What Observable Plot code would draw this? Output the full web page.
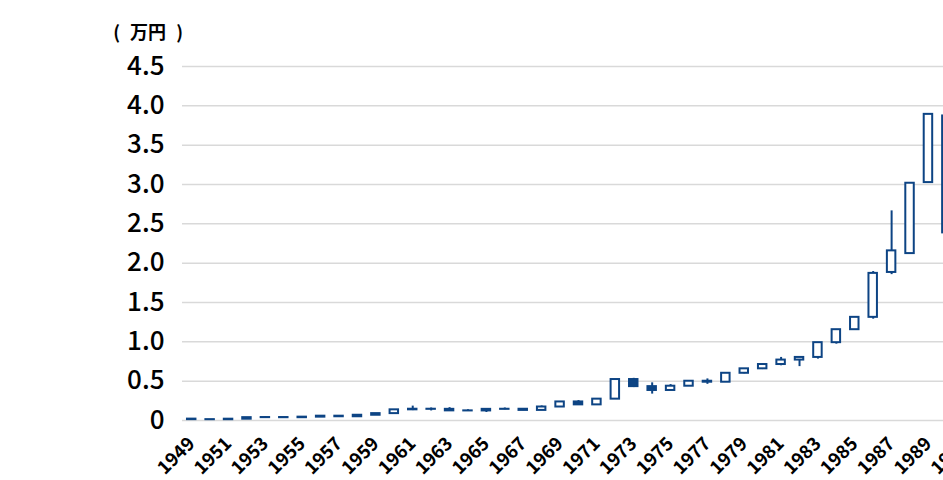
<!DOCTYPE html>
<html>
<head>
<meta charset="utf-8">
<script src="https://cdn.jsdelivr.net/npm/d3@7"></script>
<script src="https://cdn.jsdelivr.net/npm/@observablehq/plot@0.6"></script>
<style>
  html, body { margin: 0; padding: 0; background: #fff; overflow: hidden; width: 943px; height: 480px; }
  #wrap { position: relative; width: 943px; height: 480px; overflow: hidden; }
  #unit { position: absolute; left: 0; top: 19px; width: 183px; text-align: right; white-space: pre; word-spacing: 6px;
          font: bold 18px/24px "Noto Sans CJK JP", sans-serif; color: #000; }
</style>
</head>
<body>
<div id="wrap"><div id="unit">( 万円 )</div></div>
<script>
// Yearly candles, values in 万円 (10,000 yen)
const years  = [1949,1950,1951,1952,1953,1954,1955,1956,1957,1958,1959,1960,1961,1962,1963,1964,1965,1966,1967,1968,1969,1970,1971,1972,1973,1974,1975,1976,1977,1978,1979,1980,1981,1982,1983,1984,1985,1986,1987,1988,1989,1990];
const opens  = [0.0176,0.0110,0.0102,0.0166,0.0363,0.0378,0.0356,0.0426,0.0549,0.0475,0.0667,0.0875,0.1357,0.1433,0.1420,0.1225,0.1217,0.1418,0.1430,0.1283,0.1715,0.2359,0.1987,0.2714,0.5208,0.4307,0.3817,0.4359,0.4991,0.4866,0.6002,0.6569,0.7116,0.7682,0.8017,0.9894,1.1543,1.3113,1.8820,2.1217,3.0243,3.8713];
const highs  = [0.0176,0.0115,0.0166,0.0363,0.0474,0.0384,0.0426,0.0549,0.0595,0.0667,0.0875,0.1357,0.1830,0.1590,0.1634,0.1369,0.1418,0.1589,0.1506,0.1851,0.2359,0.2534,0.2741,0.5208,0.5360,0.4788,0.4565,0.4991,0.5288,0.6002,0.6591,0.7188,0.8019,0.8027,0.9894,1.1577,1.3129,1.8936,2.6646,3.0159,3.8916,3.8713];
const lows   = [0.0098,0.0085,0.0100,0.0163,0.0295,0.0315,0.0353,0.0427,0.0471,0.0475,0.0666,0.0869,0.1258,0.1216,0.1200,0.1202,0.1020,0.1364,0.1250,0.1266,0.1733,0.1929,0.1981,0.2712,0.4187,0.3355,0.3814,0.4358,0.4597,0.4867,0.5930,0.6475,0.6956,0.6850,0.7803,0.9703,1.1545,1.2881,1.8544,2.1217,3.0183,2.0222];
const closes = [0.0110,0.0102,0.0166,0.0363,0.0378,0.0356,0.0426,0.0549,0.0475,0.0667,0.0875,0.1357,0.1433,0.1420,0.1225,0.1217,0.1418,0.1430,0.1283,0.1715,0.2359,0.1987,0.2714,0.5208,0.4307,0.3817,0.4359,0.4991,0.4866,0.6002,0.6569,0.7116,0.7682,0.8017,0.9894,1.1543,1.3113,1.8701,2.1564,3.0159,3.8916,2.3849];

// Category axis (continues past the visible edge) and tick labels
const categories = [1949,1950,1951,1952,1953,1954,1955,1956,1957,1958,1959,1960,1961,1962,1963,1964,1965,1966,1967,1968,1969,1970,1971,1972,1973,1974,1975,1976,1977,1978,1979,1980,1981,1982,1983,1984,1985,1986,1987,1988,1989,1990,1991];
const xTicks = [1949,1951,1953,1955,1957,1959,1961,1963,1965,1967,1969,1971,1973,1975,1977,1979,1981,1983,1985,1987,1989,1991];
const yTicks = [0,0.5,1.0,1.5,2.0,2.5,3.0,3.5,4.0,4.5];

const color = "#0d4484";
const data = years.map((y, i) => ({year: y, open: opens[i], high: highs[i], low: lows[i], close: closes[i]}));

const chart = Plot.plot({
  width: 974,
  height: 480,
  marginLeft: 182,
  marginRight: 0,
  marginTop: 66,
  marginBottom: 60,
  style: {fontFamily: "'Noto Sans CJK JP', 'Noto Sans', sans-serif", color: "#000", background: "#fff"},
  x: {type: "band", domain: categories, paddingInner: 0.54, paddingOuter: 0.27, align: 0.5, round: false},
  y: {domain: [0, 4.5]},
  marks: [
    Plot.gridY(yTicks, {stroke: "#d9d9d9", strokeOpacity: 1, strokeWidth: 1.5}),
    Plot.axisY(yTicks, {tickSize: 0, tickPadding: 18, fontSize: 26, fontWeight: 500, label: null,
      tickFormat: d => d === 0 ? "0" : d.toFixed(1)}),
    Plot.axisX(xTicks, {tickSize: 0, tickPadding: 20, tickRotate: -45, fontSize: 18.5, fontWeight: "bold", label: null,
      tickFormat: d => String(d)}),
    Plot.ruleX(data, {x: "year", y1: "low", y2: "high", stroke: color, strokeWidth: 2}),
    Plot.barY(data, {x: "year", y1: "open", y2: "close", stroke: color, strokeWidth: 2,
      fill: d => d.close >= d.open ? "#fff" : color})
  ]
});
chart.style.maxWidth = "none";
chart.style.position = "absolute";
chart.style.left = "0";
chart.style.top = "0";
document.getElementById("wrap").prepend(chart);
</script>
</body>
</html>
